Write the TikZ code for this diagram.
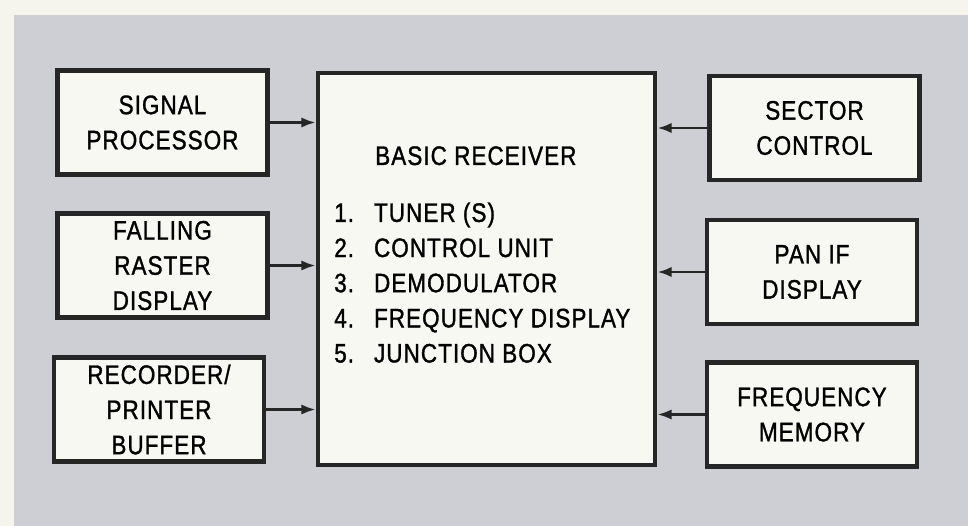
\documentclass[tikz,border=0pt]{standalone}
\usepackage{fontspec}
\setmainfont{Liberation Sans}[FakeStretch=0.84,FakeBold=1.2,LetterSpace=4]
\usetikzlibrary{arrows.meta,positioning}
\definecolor{paper}{HTML}{F5F5EE}
\definecolor{panel}{HTML}{CECED5}
\definecolor{boxfill}{HTML}{F8F8F2}
\tikzset{
  unit/.style={draw=black!85,line width=3.2pt,fill=boxfill,minimum width=5.25cm,
    minimum height=2.6cm,align=center,font=\fontsize{19}{25}\selectfont,inner sep=0pt},
  feed/.style={draw=black!85,line width=2pt,-{Latex[length=3.6mm,width=2.6mm]}}
}
\begin{document}
\begin{tikzpicture}[x=0.025cm,y=-0.025cm]
  \useasboundingbox[fill=paper] (0,0) rectangle (968,526);
  \fill[panel] (14,15) rectangle (968,526);
  % left column
  \node[unit] (sigproc) at (162.5,122.5) {SIGNAL\\PROCESSOR};
  \node[unit] (raster) at (162.5,265.5) {FALLING\\RASTER\\DISPLAY};
  \node[unit] (recorder) at (159,409.5) {RECORDER/\\PRINTER\\BUFFER};
  % basic receiver
  \node[unit,minimum width=8.425cm,minimum height=9.8cm] (recv) at (486.5,269) {};
  \node[font=\fontsize{19}{25}\selectfont,anchor=north west,inner sep=0pt] (title)
    at (375,146) {BASIC RECEIVER};
  \node[font=\fontsize{19}{25}\selectfont,anchor=north west,inner sep=0pt,align=left] (parts)
    at (334,197) {\begin{tabular}{@{}l@{\hspace{0.5cm}}l@{}}
      1. & TUNER (S)\\
      2. & CONTROL UNIT\\
      3. & DEMODULATOR\\
      4. & FREQUENCY DISPLAY\\
      5. & JUNCTION BOX
    \end{tabular}};
  % right column
  \node[unit] (sector) at (814.5,128) {SECTOR\\CONTROL};
  \node[unit] (panif) at (812,272) {PAN IF\\DISPLAY};
  \node[unit] (freqmem) at (812,414.5) {FREQUENCY\\MEMORY};
  % connections
  \draw[feed] (sigproc.east) -- (sigproc.east -| recv.west);
  \draw[feed] (raster.east) -- (raster.east -| recv.west);
  \draw[feed] (recorder.east) -- (recorder.east -| recv.west);
  \draw[feed] (sector.west) -- (sector.west -| recv.east);
  \draw[feed] (panif.west) -- (panif.west -| recv.east);
  \draw[feed] (freqmem.west) -- (freqmem.west -| recv.east);
\end{tikzpicture}
\end{document}
